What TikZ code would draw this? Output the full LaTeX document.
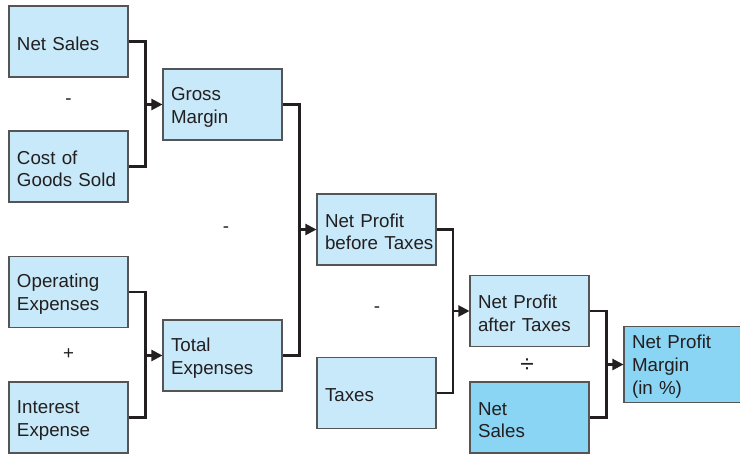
\documentclass[tikz,border=0pt]{standalone}
\usepackage{fontspec}
\setmainfont{Liberation Sans}
\usepackage{tikz}
\usetikzlibrary{arrows.meta,positioning,calc}
\definecolor{paleblue}{RGB}{199,233,249}
\definecolor{skyblue}{RGB}{138,212,244}
\definecolor{boxline}{RGB}{85,85,85}
\definecolor{ink}{RGB}{35,31,32}
\tikzset{
  item/.style={rectangle,draw=boxline,line width=0.9pt,fill=paleblue,
    minimum width=3.57cm,minimum height=2.13cm,inner xsep=0.24cm,
    text width=3.09cm,align=left,text=ink,
    font=\fontsize{16}{19.6}\selectfont,
    execute at begin node={\rule{0pt}{15.5pt}}},
  result/.style={item,fill=skyblue},
  op/.style={text=ink,font=\fontsize{16}{19.6}\selectfont},
  link/.style={draw=ink,line width=1.8pt},
  feed/.style={link,-{Triangle[length=0.33cm,width=0.33cm]}}
}

\begin{document}
\begin{tikzpicture}[x=0.03cm,y=-0.03cm]
    \useasboundingbox (0,0) rectangle (740,454);
    % inputs
    \node[item] (ns) at (68.5,41.5) {Net Sales};
    \node[item] (cogs) at (68.5,166.5) {Cost of\\Goods Sold};
    \node[item] (opex) at (68.5,292) {Operating\\Expenses};
    \node[item] (intx) at (68.5,417.5) {Interest\\Expense};
    \node[item] (gm) at (222.5,104.5) {Gross\\Margin};
    \node[item] (tot) at (222.5,355.5) {Total\\Expenses};
    \node[item] (npbt) at (376.5,229.5) {Net Profit\\before~Taxes};
    \node[item] (tax) at (376.5,393) {Taxes};
    \node[item] (npat) at (529.5,311) {Net Profit\\after Taxes};
    \node[result] (nsb) at (529.5,417.5) {Net\\Sales};
    \node[result] (npm) at (683.5,364.5) {Net Profit\\Margin\\(in \%)};
    % operators
    \node[op] (o1) at (68.5,102) {-};
    \node[op] (o2) at (68.5,354) {+};
    \node[op] (o3) at (226,230) {-};
    \node[op] (o4) at (377,310) {-};
    \node[op,font=\fontsize{21}{24}\selectfont] (o5) at (527,366) {÷};
    % connectors
    \coordinate (j1) at ($(ns.east)!.5!(gm.west)$);
    \draw[link] (ns.east) -| (j1) |- (cogs.east);
    \draw[feed] (j1 |- gm.west) -- (gm.west);
    \coordinate (j2) at ($(opex.east)!.5!(tot.west)$);
    \draw[link] (opex.east) -| (j2) |- (intx.east);
    \draw[feed] (j2 |- tot.west) -- (tot.west);
    \coordinate (j3) at ($(gm.east)!.5!(npbt.west)$);
    \draw[link] (gm.east) -| (j3) |- (tot.east);
    \draw[feed] (j3 |- npbt.west) -- (npbt.west);
    \coordinate (j4) at ($(npbt.east)!.5!(npat.west)$);
    \draw[link] (npbt.east) -| (j4) |- (tax.east);
    \draw[feed] (j4 |- npat.west) -- (npat.west);
    \coordinate (j5) at ($(npat.east)!.5!(npm.west)$);
    \draw[link] (npat.east) -| (j5) |- (nsb.east);
    \draw[feed] (j5 |- npm.west) -- (npm.west);
\end{tikzpicture}
\end{document}
